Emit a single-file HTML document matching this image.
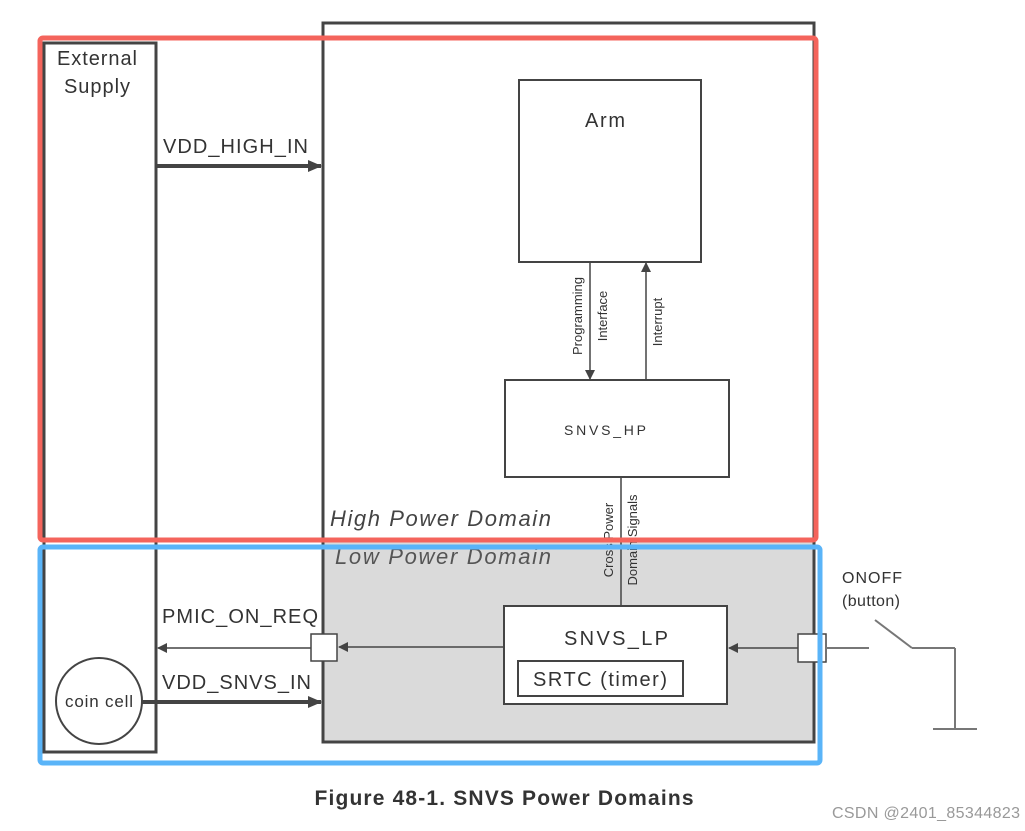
<!DOCTYPE html>
<html><head><meta charset="utf-8"><style>html,body{margin:0;padding:0;background:#fff}svg{display:block}</style></head>
<body>
<svg width="1025" height="831" viewBox="0 0 1025 831" xmlns="http://www.w3.org/2000/svg" font-family="Liberation Sans, sans-serif">
<defs>
<marker id="a" markerWidth="10" markerHeight="10" refX="9" refY="5" orient="auto" markerUnits="userSpaceOnUse"><path d="M0,0 L10,5 L0,10 z" fill="#444"/></marker>
<marker id="b" markerWidth="14" markerHeight="14" refX="13" refY="7" orient="auto" markerUnits="userSpaceOnUse"><path d="M0,1 L14,7 L0,13 z" fill="#444"/></marker>
</defs>
<rect x="0" y="0" width="1025" height="831" fill="#fff"/>
<rect x="323" y="542" width="491" height="200" fill="#dadada"/>
<rect x="323" y="23" width="491" height="719" fill="none" stroke="#444" stroke-width="3"/>
<rect x="44" y="43" width="112" height="709" fill="none" stroke="#444" stroke-width="3"/>
<text x="97" y="65" font-size="20" fill="#333" text-anchor="middle" textLength="80">External</text>
<text x="97" y="93" font-size="20" fill="#333" text-anchor="middle" textLength="66">Supply</text>
<text x="163" y="153" font-size="20" fill="#333" textLength="145">VDD_HIGH_IN</text>
<line x1="156" y1="166" x2="321" y2="166" stroke="#444" stroke-width="4" marker-end="url(#b)"/>
<rect x="519" y="80" width="182" height="182" fill="#fff" stroke="#444" stroke-width="2"/>
<text x="605" y="127" font-size="20" fill="#333" text-anchor="middle" textLength="40">Arm</text>
<line x1="590" y1="262" x2="590" y2="379" stroke="#444" stroke-width="1.5" marker-end="url(#a)"/>
<line x1="646" y1="379" x2="646" y2="263" stroke="#444" stroke-width="1.5" marker-end="url(#a)"/>
<text transform="translate(582,316) rotate(-90)" font-size="13" fill="#333" text-anchor="middle">Programming</text>
<text transform="translate(607,316) rotate(-90)" font-size="13" fill="#333" text-anchor="middle">Interface</text>
<text transform="translate(662,322) rotate(-90)" font-size="13" fill="#333" text-anchor="middle">Interrupt</text>
<rect x="505" y="380" width="224" height="97" fill="#fff" stroke="#444" stroke-width="2"/>
<text x="605" y="435" font-size="14" fill="#333" text-anchor="middle" textLength="82">SNVS_HP</text>
<line x1="621" y1="477" x2="621" y2="606" stroke="#444" stroke-width="1.5"/>
<text transform="translate(613,540) rotate(-90)" font-size="13" fill="#333" text-anchor="middle">Cross Power</text>
<text transform="translate(637,540) rotate(-90)" font-size="13" fill="#333" text-anchor="middle">Domain Signals</text>
<text x="330" y="526" font-size="22" font-style="italic" fill="#444" textLength="221">High Power Domain</text>
<text x="335" y="564" font-size="22" font-style="italic" fill="#555" textLength="216">Low Power Domain</text>
<rect x="504" y="606" width="223" height="98" fill="#fff" stroke="#444" stroke-width="2"/>
<text x="616" y="645" font-size="20" fill="#333" text-anchor="middle" textLength="104">SNVS_LP</text>
<rect x="518" y="661" width="165" height="35" fill="#fff" stroke="#444" stroke-width="2"/>
<text x="600" y="686" font-size="20" fill="#333" text-anchor="middle" textLength="134">SRTC (timer)</text>
<line x1="504" y1="647" x2="339" y2="647" stroke="#444" stroke-width="1.5" marker-end="url(#a)"/>
<rect x="311" y="634" width="26" height="27" fill="#fff" stroke="#444" stroke-width="1.5"/>
<line x1="311" y1="648" x2="158" y2="648" stroke="#444" stroke-width="1.5" marker-end="url(#a)"/>
<text x="162" y="623" font-size="20" fill="#333" textLength="156">PMIC_ON_REQ</text>
<line x1="798" y1="648" x2="729" y2="648" stroke="#444" stroke-width="1.5" marker-end="url(#a)"/>
<rect x="798" y="634" width="28" height="28" fill="#fff" stroke="#444" stroke-width="1.5"/>
<line x1="826" y1="648" x2="869" y2="648" stroke="#777" stroke-width="2"/>
<line x1="875" y1="620" x2="912" y2="648" stroke="#777" stroke-width="2"/>
<line x1="912" y1="648" x2="955" y2="648" stroke="#777" stroke-width="2"/>
<line x1="955" y1="648" x2="955" y2="729" stroke="#777" stroke-width="2"/>
<line x1="933" y1="729" x2="977" y2="729" stroke="#777" stroke-width="2"/>
<text x="842" y="583" font-size="16" fill="#333" textLength="60">ONOFF</text>
<text x="842" y="606" font-size="16" fill="#333" textLength="58">(button)</text>
<circle cx="99" cy="701" r="43" fill="#fff" stroke="#444" stroke-width="2"/>
<text x="99" y="707" font-size="17" fill="#333" text-anchor="middle" textLength="68">coin cell</text>
<line x1="142" y1="702" x2="321" y2="702" stroke="#444" stroke-width="4" marker-end="url(#b)"/>
<text x="162" y="689" font-size="20" fill="#333" textLength="149">VDD_SNVS_IN</text>
<rect x="40" y="38" width="776" height="502" rx="3" fill="none" stroke="#f4645c" stroke-width="5"/>
<rect x="40" y="547" width="780" height="216" rx="3" fill="none" stroke="#5ab4f8" stroke-width="5"/>
<text x="504" y="805" font-size="21" font-weight="bold" fill="#333" text-anchor="middle" textLength="379">Figure 48-1. SNVS Power Domains</text>
<text x="1020" y="818" font-size="16" fill="#999" text-anchor="end" textLength="188">CSDN @2401_85344823</text>
</svg>
</body></html>
